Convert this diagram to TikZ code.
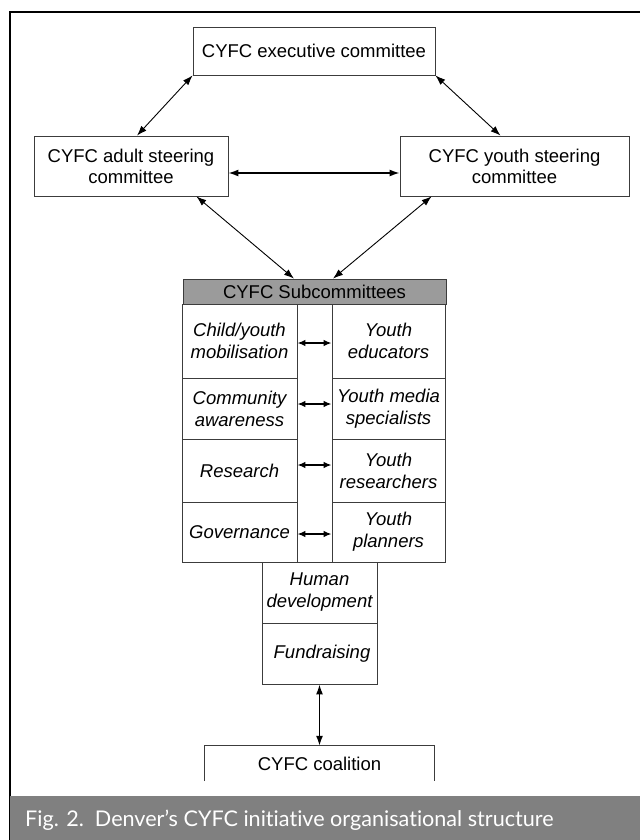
\documentclass[tikz,border=0pt]{standalone}
\usepackage{fontspec}
\setmainfont{Liberation Sans}
\newfontfamily\capfont[Ligatures=NoCommon]{Lato}
\usepackage{xcolor}
\definecolor{boxline}{RGB}{60,60,60}
\definecolor{headfill}{RGB}{155,155,155}
\definecolor{capbar}{RGB}{128,128,128}
\usetikzlibrary{arrows.meta}
\tikzset{
  unit/.style={draw=boxline, line width=0.8bp, inner sep=0pt, align=center, minimum height=60bp},
  cell/.style={unit, font=\itshape\fontsize{18.5bp}{22bp}\selectfont},
  link/.style={<->, line width=0.9bp},
  biglink/.style={<->, line width=1.5bp},
}

\begin{document}
\begin{tikzpicture}[font=\fontsize{18.5bp}{21bp}\selectfont, >={Latex[length=10bp,width=7bp]}, x=1bp, y=-1bp]
\useasboundingbox (0,0) rectangle (640,840);
\draw[line width=1.5bp] (10,840) -- (10,12) -- (640,12);
\node[unit, minimum width=242bp, minimum height=48bp] (exec) at (314,51) {CYFC executive committee};
\node[unit, minimum width=194bp] (adult) at (131,166) {CYFC adult steering\\committee};
\node[unit, minimum width=229bp] (youth) at (514.5,166) {CYFC youth steering\\committee};
\node[unit, fill=headfill, minimum width=263bp, minimum height=25bp] (subs) at (314.5,291.5) {CYFC Subcommittees};
\node[unit, minimum width=35bp, minimum height=258bp] (strip) at (314.5,433) {};
\node[cell, minimum width=115bp, minimum height=74bp] (sub1) at (239.5,341) {Child/youth\\mobilisation};
\node[cell, minimum width=115bp, minimum height=61bp] (sub2) at (239.5,408.5) {Community\\awareness};
\node[cell, minimum width=115bp, minimum height=63bp] (sub3) at (239.5,470.5) {Research};
\node[cell, minimum width=115bp, minimum height=60bp] (sub4) at (239.5,532) {Governance};
\node[cell, minimum width=113bp, minimum height=74bp] (yg1) at (388.5,341) {Youth\\educators};
\node[cell, minimum width=113bp, minimum height=61bp] (yg2) at (388.5,408.5) {Youth media\\specialists};
\node[cell, minimum width=113bp, minimum height=63bp] (yg3) at (388.5,470.5) {Youth\\researchers};
\node[cell, minimum width=113bp, minimum height=60bp] (yg4) at (388.5,532) {Youth\\planners};
\node[cell, minimum width=115bp, minimum height=61bp] (human) at (319.5,592.5) {Human\\development};
\node[cell, minimum width=115bp, minimum height=61bp] (fund) at (319.5,653.5) {\hspace*{5bp}Fundraising};
\node[inner sep=0pt, minimum width=229bp, minimum height=35bp] (coal) at (319.5,763.5) {CYFC coalition};
\draw[draw=boxline, line width=0.8bp] (coal.south west) -- (coal.north west) -- (coal.north east) -- (coal.south east);
\draw[link] (exec.south west) -- ([xshift=6bp]adult.north);
\draw[link] (exec.south east) -- ([xshift=-14bp]youth.north);
\draw[biglink] ([yshift=-7bp]adult.east) -- ([yshift=-7bp]youth.west);
\draw[link] ([xshift=-32bp]adult.south east) -- ([xshift=-20.5bp]subs.north);
\draw[link] ([xshift=32bp]youth.south west) -- ([xshift=18.5bp]subs.north);
\foreach \i/\d in {1/-2,2/4.5,3/5.5,4/-2}
  \draw[biglink, >={Latex[length=8bp,width=6.5bp]}] ([yshift=\d bp]sub\i.east) -- ([yshift=\d bp]yg\i.west);
\draw[biglink] (fund.south) -- (coal.north);
\fill[capbar] (10,796) rectangle (640,840);
\node[anchor=base west, text=white, inner sep=0pt, font=\capfont\fontsize{21.6bp}{22bp}\selectfont] (cap) at (25,826) {Fig. 2.\ \ Denver’s CYFC initiative organisational structure};
\end{tikzpicture}
\end{document}
